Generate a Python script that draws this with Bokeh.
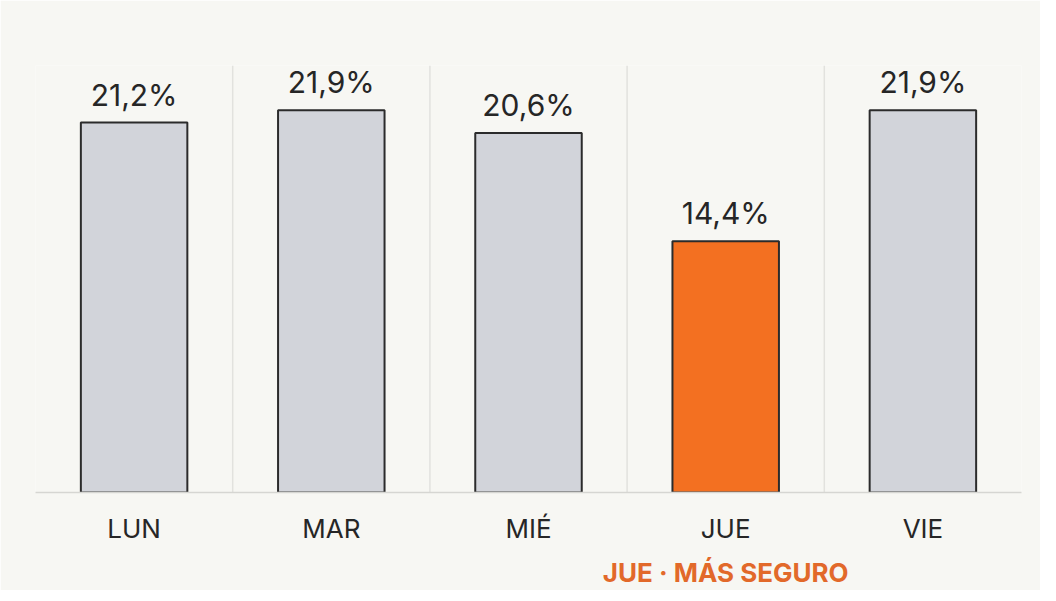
from bokeh.plotting import figure
from bokeh.models import ColumnDataSource, FactorRange, Range1d, CategoricalAxis
from bokeh.transform import dodge
from bokeh.embed import file_html
from bokeh.resources import INLINE
from bokeh.core.properties import value

# ---- data ----
days = ["LUN", "MAR", "MIÉ", "JUE", "VIE"]
rates = [21.2, 21.9, 20.6, 14.4, 21.9]
rate_labels = ["21,2%", "21,9%", "20,6%", "14,4%", "21,9%"]
highlight = "JUE"
note = "JUE · MÁS SEGURO"

# ---- styles ----
BG = "#f7f7f3"
GRAY = "#d2d4da"
ORANGE = "#f37021"
NOTE_COLOR = "#e2692a"
EDGE = "#2b2b2b"
TEXT = "#262626"
SEP = "#e2e2de"
FONT = "Inter"
Y_MAX = 24.47

colors = [ORANGE if d == highlight else GRAY for d in days]
src = ColumnDataSource(dict(d=days, r=rates, lbl=rate_labels, c=colors))

# an auxiliary categorical range whose only visible factor is the note,
# placed in the highlighted day's slot
note_factors = [note if d == highlight else " " * (i + 1) for i, d in enumerate(days)]

p = figure(
    width=1040, height=590,
    x_range=FactorRange(*days, range_padding=0),
    y_range=Range1d(0, Y_MAX),
    output_backend="svg", toolbar_location=None,
    min_border_left=35, min_border_right=19,
    min_border_top=65, min_border_bottom=98,
    background_fill_color=BG, border_fill_color=BG,
)
p.extra_x_ranges = {"note": FactorRange(*note_factors, range_padding=0)}
p.outline_line_color = None
p.xgrid.visible = False
p.ygrid.visible = False
p.yaxis.visible = False

# separators between categories
sep_src = ColumnDataSource(dict(d=days[1:]))
p.segment(
    x0=dodge("d", -0.5, range=p.x_range), y0=0,
    x1=dodge("d", -0.5, range=p.x_range), y1=Y_MAX,
    source=sep_src, line_color=SEP, line_width=1.5,
)

p.vbar(x="d", top="r", width=0.54, source=src,
       fill_color="c", line_color=EDGE, line_width=2)

p.text(x="d", y="r", text="lbl", source=src,
       text_align="center", text_baseline="alphabetic", y_offset=-28,
       text_font=value(FONT), text_font_size="30px", text_color=TEXT)

ax = p.xaxis[0]
ax.axis_line_color = "#d6d6d2"
ax.axis_line_width = 1.5
ax.major_tick_line_color = None
ax.minor_tick_line_color = None
ax.major_tick_out = 0
ax.major_label_standoff = 20
ax.major_label_text_font = FONT
ax.major_label_text_font_size = "26px"
ax.major_label_text_color = TEXT

note_axis = CategoricalAxis(
    x_range_name="note",
    axis_line_color=None, major_tick_line_color=None, minor_tick_line_color=None,
    major_tick_out=0, major_label_standoff=10,
    major_label_text_font=FONT, major_label_text_font_size="26px",
    major_label_text_font_style="bold", major_label_text_color=NOTE_COLOR,
)
p.add_layout(note_axis, "below")

open("out.html", "w").write(file_html(p, INLINE))
